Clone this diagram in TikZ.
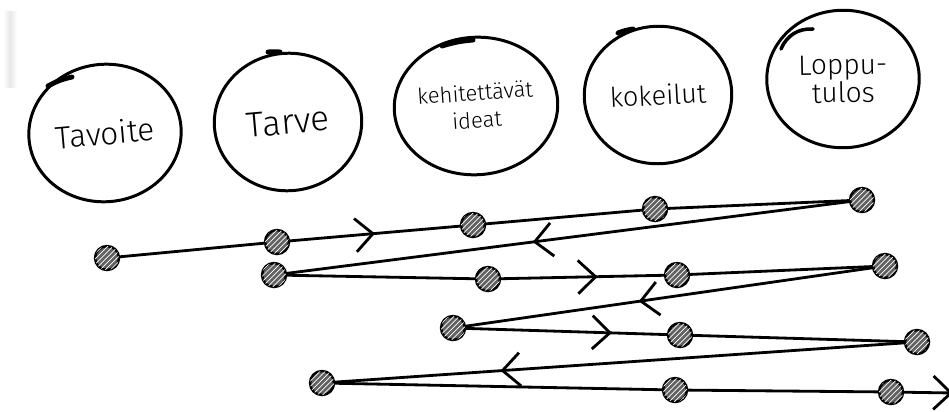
\documentclass[tikz,border=0pt]{standalone}
\usepackage{fontspec}
\setmainfont{Fira Sans Light}
\usepackage{tikz}
\usetikzlibrary{shapes.geometric,arrows.meta,decorations.markings,patterns,backgrounds,calc}

\begin{document}
\begin{tikzpicture}[
    x=0.02cm, y=-0.02cm,
    phase/.style={ellipse, draw, line width=1.7pt, inner sep=0pt, align=center, minimum width=3.05cm, minimum height=2.75cm},
    dot/.style={circle, draw, line width=1.4pt, minimum size=0.48cm, inner sep=0pt, fill=black!62, postaction={pattern=north east lines, pattern color=white!85}},
    path/.style={line width=1.6pt, line cap=round},
    pen/.style={line width=2.8pt, line cap=round},
    chev/.style={postaction={decorate, decoration={markings, mark=at position #1 with {\arrow{>}}}}},
    >={Straight Barb[length=10pt, width=19pt]}
]
    \useasboundingbox (0,0) rectangle (949,412);
    % scanner smudge at the left edge
    \shade[left color=white, right color=white, middle color=black!9] (3,12) rectangle (17,88);

    % phases
    \node[phase, rotate=5, font=\fontsize{18}{20}\selectfont] (tavoite) at (105,133) {\raisebox{-5pt}{Tavoite}};
    \node[phase, rotate=5, minimum width=2.95cm, font=\fontsize{20}{22}\selectfont] (tarve) at (288,122) {Tarve};
    \node[phase, rotate=4, font=\fontsize{12.5}{15.5}\selectfont] (ideat) at (476,106) {kehitettävät\\ideat};
    \node[phase, rotate=3, minimum width=2.95cm, font=\fontsize{15.5}{17}\selectfont] (kokeilut) at (658,95) {kokeilut};
    \node[phase, rotate=1, font=\fontsize{16}{16}\selectfont] (tulos) at (843,79) {Loppu-\\tulos};

    % pen strokes where each circle was started
    \draw[pen] ($(tavoite.center)+(-57,-47)$) to[bend left=8] ($(tavoite.center)+(-33,-56)$);
    \draw[pen] ($(tarve.center)+(-20,-70)$) to[bend left=3] ($(tarve.center)+(-8,-70)$);
    \draw[pen] ($(ideat.center)+(-34,-60)$) to[bend left=6] ($(ideat.center)+(-3,-66)$);
    \draw[pen] ($(kokeilut.center)+(-40,-62)$) to[bend left=6] ($(kokeilut.center)+(-25,-66)$);
    \draw[line width=2pt, line cap=round] ($(tulos.center)+(-62,-30)$) to[bend left=35] ($(tulos.center)+(-30,-50)$);

    % steps along the timeline
    \node[dot] (a) at (107,258) {};
    \node[dot] (b) at (277,242) {};
    \node[dot] (c) at (473,225) {};
    \node[dot] (d) at (655,209) {};
    \node[dot] (e) at (862,200) {};
    \node[dot] (f) at (274,275) {};
    \node[dot] (g) at (488,279) {};
    \node[dot] (h) at (677,275) {};
    \node[dot] (i) at (885,266) {};
    \node[dot] (j) at (453,328) {};
    \node[dot] (k) at (680,335) {};
    \node[dot] (l) at (917,342) {};
    \node[dot] (m) at (322,383) {};
    \node[dot] (n) at (675,390) {};
    \node[dot] (o) at (891,392) {};
    \coordinate (out) at (953,393);

    \begin{pgfonlayer}{background}
        \draw[path] (a.center) -- (b.center);
        \draw[path, chev=0.5] (b.center) -- (c.center);
        \draw[path] (c.center) -- (d.center) -- (e.center);
        \draw[path, chev=0.56] (e.center) -- (f.center);
        \draw[path] (f.center) -- (g.center);
        \draw[path, chev=0.58] (g.center) -- (h.center);
        \draw[path] (h.center) -- (i.center);
        \draw[path, chev=0.57] (i.center) -- (j.center);
        \draw[path, chev=0.7] (j.center) -- (k.center);
        \draw[path] (k.center) -- (l.center);
        \draw[path, chev=0.7] (l.center) -- (m.center);
        \draw[path] (m.center) -- (n.center) -- (o.center);
        \draw[path, ->] (o.center) -- (out);
    \end{pgfonlayer}
\end{tikzpicture}
\end{document}
